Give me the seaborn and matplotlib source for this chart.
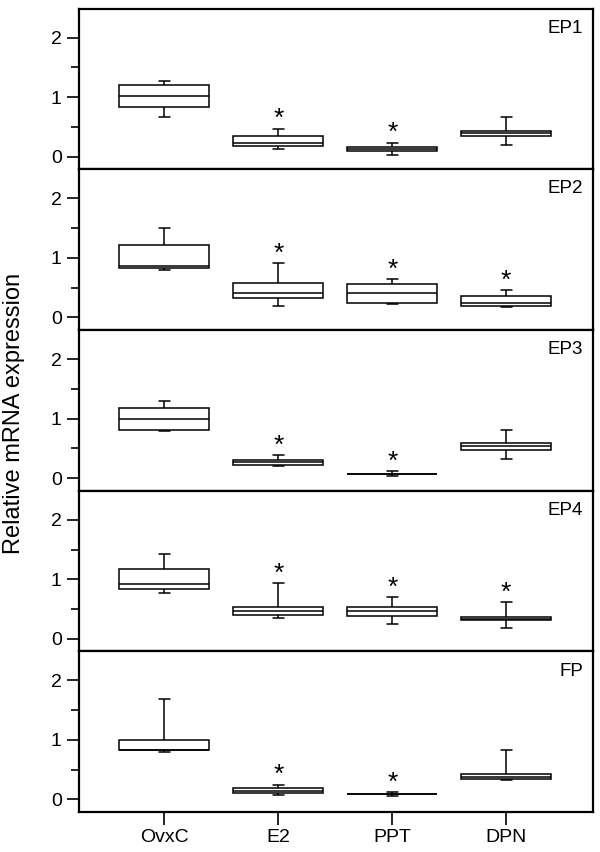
import pandas as pd
import matplotlib
matplotlib.use("Agg")
import matplotlib.pyplot as plt
import seaborn as sns
from matplotlib.ticker import MultipleLocator

groups = ["OvxC", "E2", "PPT", "DPN"]
panels = ["EP1", "EP2", "EP3", "EP4", "FP"]

# box stats per group: [lower whisker, q1, median, q3, upper whisker]
ep1 = [[0.67, 0.835, 1.025, 1.205, 1.27],
       [0.13, 0.175, 0.235, 0.343, 0.47],
       [0.03, 0.096, 0.135, 0.168, 0.235],
       [0.20, 0.343, 0.393, 0.437, 0.667]]
ep2 = [[0.80, 0.824, 0.869, 1.217, 1.507],
       [0.197, 0.326, 0.403, 0.571, 0.908],
       [0.218, 0.242, 0.403, 0.555, 0.645],
       [0.18, 0.197, 0.235, 0.36, 0.454]]
ep3 = [[0.785, 0.807, 0.986, 1.171, 1.30],
       [0.196, 0.218, 0.264, 0.308, 0.38],
       [0.04, 0.072, 0.074, 0.076, 0.118],
       [0.325, 0.47, 0.532, 0.588, 0.80]]
ep4 = [[0.768, 0.842, 0.914, 1.172, 1.418],
       [0.354, 0.393, 0.466, 0.533, 0.936],
       [0.242, 0.376, 0.466, 0.539, 0.696],
       [0.18, 0.309, 0.331, 0.36, 0.617]]
fp = [[0.80, 0.825, 0.835, 0.993, 1.687],
      [0.069, 0.108, 0.147, 0.19, 0.247],
      [0.05, 0.088, 0.09, 0.092, 0.124],
      [0.321, 0.343, 0.382, 0.427, 0.825]]

# significance marks (*) per panel
stars = [[False, True, True, False],
         [False, True, True, True],
         [False, True, True, False],
         [False, True, True, True],
         [False, True, True, False]]

all_stats = [ep1, ep2, ep3, ep4, fp]

sns.set_theme(style="ticks")
plt.rcParams['font.family'] = ['Liberation Sans', 'DejaVu Sans']
plt.rcParams['text.color'] = 'black'
plt.rcParams['xtick.color'] = 'black'
plt.rcParams['ytick.color'] = 'black'
plt.rcParams['xtick.labelcolor'] = 'black'
plt.rcParams['ytick.labelcolor'] = 'black'

fig, axes = plt.subplots(5, 1, figsize=(6, 8.52), dpi=100, sharex=True)
fig.subplots_adjust(left=0.1317, right=0.988, top=0.990, bottom=0.047, hspace=0)

line = dict(color="black", linewidth=1.1)

for ax, name, stats, st in zip(axes, panels, all_stats, stars):
    rows = []
    for g, vals in zip(groups, stats):
        for v in vals:
            rows.append({"group": g, "value": v})
    df = pd.DataFrame(rows)

    sns.boxplot(data=df, x="group", y="value", order=groups, ax=ax,
                whis=(0, 100), width=0.79, capwidths=0.1, showfliers=False,
                boxprops=dict(facecolor="white", edgecolor="black", linewidth=1.1),
                medianprops=dict(color="black", linewidth=1.1),
                whiskerprops=line, capprops=line)

    for i, (vals, s) in enumerate(zip(stats, st)):
        if s:
            ax.text(i, vals[4] + 0.16, "*", ha="center", va="center",
                    fontsize=19, color="black")

    ax.text(0.981, 0.93, name, transform=ax.transAxes, ha="right", va="top",
            fontsize=13.5, color="black")

    ax.set_ylim(-0.21, 2.49)
    ax.set_xlim(-0.75, 3.76)
    ax.yaxis.set_major_locator(MultipleLocator(1))
    ax.yaxis.set_minor_locator(MultipleLocator(0.5))
    ax.tick_params(axis="y", which="major", direction="out", length=9, width=1.2, labelsize=14)
    ax.tick_params(axis="y", which="minor", direction="out", length=6, width=1.2)
    ax.tick_params(axis="x", direction="out", length=9, width=1.2, labelsize=14)
    ax.set_xlabel("")
    ax.set_ylabel("")
    for sp in ax.spines.values():
        sp.set_visible(True)
        sp.set_linewidth(1.6)
        sp.set_color("black")

fig.text(0.024, 0.515, "Relative mRNA expression", rotation=90,
         ha="center", va="center", fontsize=17, color="black")

fig.savefig("out.png", dpi=100)
